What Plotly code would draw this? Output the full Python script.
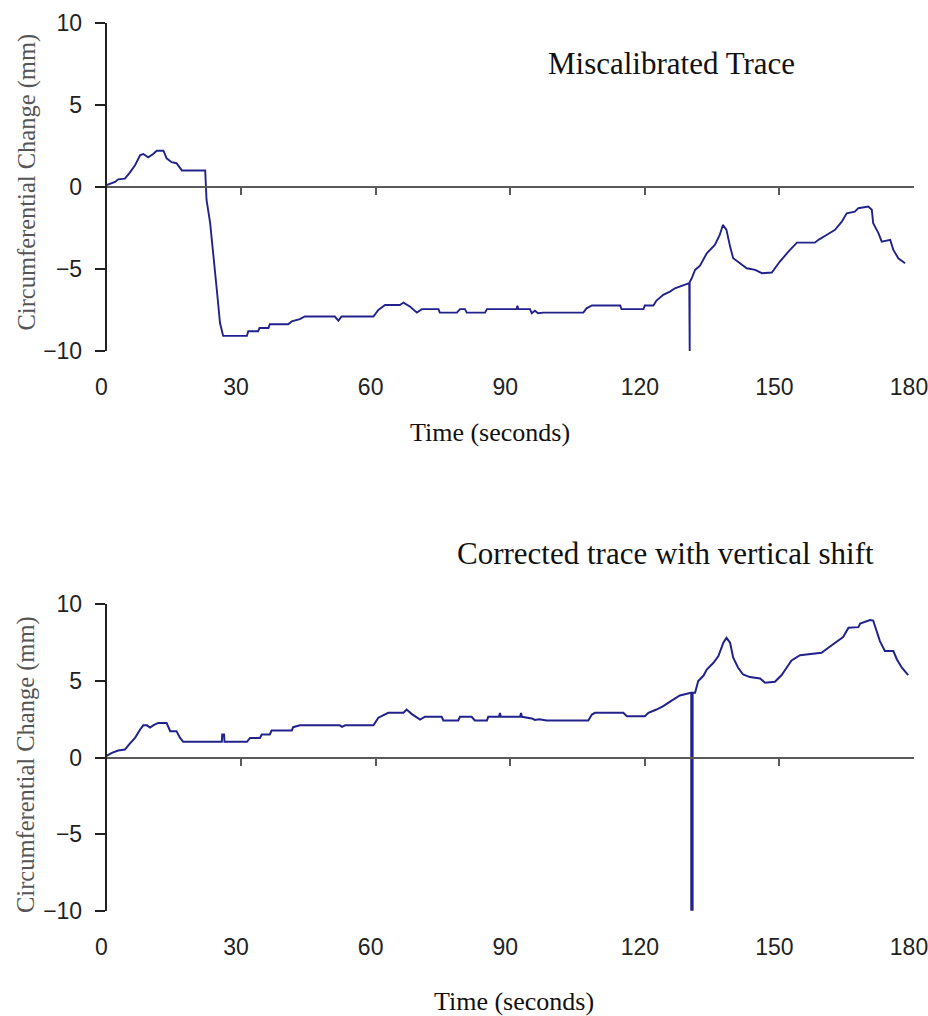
import plotly.graph_objects as go

# ---------------- data ----------------
top_t = [0, 1.9, 2.6, 4.1, 5.2, 6.4, 7.5, 8.2, 9.3, 10.4, 11.2, 12.7, 13.4, 14.5, 15.6, 16.8,
         22.0, 22.1, 22.3, 23.1, 23.8, 24.6, 25.3, 26.0, 31.3, 31.6, 33.8, 34.1, 36.1, 36.4,
         40.5, 41.3, 43.1, 44.2, 50.9, 51.7, 52.4, 59.5, 60.6, 62.1, 65.4, 66.2, 67.7, 69.2,
         70.3, 74.0, 74.3, 78.1, 78.8, 79.9, 80.3, 84.4, 84.8, 91.4, 91.6, 91.8, 94.4, 94.8,
         95.5, 96.2, 97.4, 106.3, 107.0, 108.2, 114.5, 114.8, 119.7, 120.0, 121.9, 122.6,
         124.1, 125.6, 126.7, 128.2, 129.9, 130.0, 130.0, 130.4, 131.2, 132.3, 133.8, 135.6,
         136.7, 137.4, 138.2, 139.0, 139.7, 141.2, 142.7, 144.6, 146.1, 148.3, 150.1, 152.0,
         153.9, 157.9, 158.7, 160.5, 162.4, 163.9, 165.0, 166.8, 167.6, 169.8, 170.6, 170.9,
         172.1, 172.8, 174.7, 175.4, 176.5, 178.0]
top_v = [0.1, 0.3, 0.46, 0.5, 0.87, 1.33, 1.94, 2.0, 1.8, 2.0, 2.2, 2.2, 1.74, 1.5, 1.44, 1.0,
         1.0, 0.0, -0.8, -2.2, -4.0, -6.3, -8.3, -9.08, -9.08, -8.8, -8.8, -8.6, -8.6, -8.37,
         -8.37, -8.2, -8.06, -7.9, -7.9, -8.15, -7.9, -7.9, -7.5, -7.2, -7.2, -7.05, -7.3, -7.66,
         -7.45, -7.45, -7.66, -7.66, -7.45, -7.45, -7.66, -7.66, -7.45, -7.45, -7.25, -7.45, -7.45, -7.7,
         -7.55, -7.7, -7.66, -7.66, -7.4, -7.23, -7.23, -7.45, -7.45, -7.23, -7.23, -6.93,
         -6.58, -6.38, -6.18, -6.04, -5.87, -10.0, -5.8, -5.6, -5.06, -4.8, -4.05, -3.54,
         -2.93, -2.32, -2.62, -3.64, -4.35, -4.65, -4.96, -5.06, -5.26, -5.22, -4.55, -3.95,
         -3.4, -3.4, -3.23, -2.93, -2.62, -2.12, -1.61, -1.51, -1.3, -1.2, -1.4, -2.22,
         -2.83, -3.34, -3.23, -3.84, -4.35, -4.65]

bot_t = [0, 1.2, 2.6, 4.1, 5.2, 6.4, 7.5, 8.2, 9.0, 9.7, 10.4, 11.5, 13.4, 14.2, 15.6, 16.4,
         17.1, 25.7, 25.8, 26.2, 26.3, 31.3, 32.0, 34.2, 34.6, 36.4, 36.8, 41.3, 41.6, 43.1,
         52.0, 52.5, 53.2, 59.5, 60.6, 62.8, 66.2, 66.9, 68.0, 69.9, 71.0, 74.7, 75.1, 78.4,
         78.8, 81.4, 82.1, 84.8, 85.1, 87.5, 87.7, 87.9, 92.2, 92.4, 92.6, 94.8, 95.5, 96.5,
         98.1, 107.4, 108.2, 108.9, 115.2, 116.0, 120.0, 120.8, 122.6, 124.1, 125.2, 126.7,
         127.8, 130.3, 130.35, 130.35, 130.65, 130.65, 131.2, 131.9, 133.1, 133.8, 135.3, 136.4,
         137.5, 138.2, 139.0, 139.7, 140.8, 141.9, 143.4, 145.7, 146.8, 149.0, 150.5, 151.6,
         152.7, 154.6, 158.7, 159.4, 160.9, 162.4, 164.2, 165.4, 167.6, 168.0, 170.2, 170.9,
         171.7, 172.4, 173.5, 175.4, 176.2, 177.3, 178.7]
bot_v = [0.1, 0.3, 0.46, 0.52, 0.9, 1.3, 1.83, 2.1, 2.1, 1.95, 2.1, 2.26, 2.26, 1.72, 1.72, 1.28,
         1.02, 1.02, 1.5, 1.5, 1.02, 1.02, 1.28, 1.28, 1.5, 1.5, 1.76, 1.76, 1.98, 2.1,
         2.1, 2.0, 2.1, 2.1, 2.6, 2.92, 2.92, 3.13, 2.85, 2.48, 2.66, 2.66, 2.42, 2.42,
         2.66, 2.66, 2.42, 2.42, 2.66, 2.66, 2.9, 2.66, 2.66, 2.9, 2.66, 2.55, 2.45, 2.5,
         2.42, 2.42, 2.8, 2.92, 2.92, 2.7, 2.7, 2.92, 3.13, 3.35, 3.57, 3.85,
         4.05, 4.22, 4.22, -10.0, -10.0, 4.22, 4.22, 4.99, 5.35, 5.74, 6.18, 6.62,
         7.49, 7.81, 7.49, 6.51, 5.86, 5.42, 5.25, 5.16, 4.88, 4.94, 5.38, 5.86,
         6.33, 6.68, 6.77, 6.83, 7.16, 7.49, 7.86, 8.47, 8.51, 8.75, 8.97, 8.94,
         8.25, 7.6, 6.95, 6.95, 6.4, 5.86, 5.38]

x_ticks = [0, 30, 60, 90, 120, 150, 180]
x_minor = [30, 60, 90, 120, 150]
y_ticks = [-10, -5, 0, 5, 10]

titles = ["Miscalibrated Trace", "Corrected trace with vertical shift"]
x_title = "Time (seconds)"
y_title = "Circumferential Change (mm)"

# ---------------- layout geometry ----------------
W, H = 928, 1016
x_dom = [106.5 / W, 914 / W]
top_dom = [1 - 351 / H, 1 - 22.7 / H]
bot_dom = [1 - 910.7 / H, 1 - 604.3 / H]

line_col = "#22228c"
tick_font = dict(family="Liberation Sans, Arial, sans-serif", size=23, color="#222222")
serif = "Liberation Serif, Times New Roman, serif"

fig = go.Figure()
fig.add_trace(go.Scatter(x=top_t, y=top_v, mode="lines", line=dict(color=line_col, width=1.9),
                         xaxis="x", yaxis="y", hoverinfo="skip", showlegend=False))
fig.add_trace(go.Scatter(x=bot_t, y=bot_v, mode="lines", line=dict(color=line_col, width=2.0),
                         xaxis="x2", yaxis="y2", hoverinfo="skip", showlegend=False))
# invisible helpers so the zero-line axes render
fig.add_trace(go.Scatter(x=[0], y=[0], mode="markers", marker=dict(opacity=0), xaxis="x3", yaxis="y",
                         hoverinfo="skip", showlegend=False))
fig.add_trace(go.Scatter(x=[0], y=[0], mode="markers", marker=dict(opacity=0), xaxis="x4", yaxis="y2",
                         hoverinfo="skip", showlegend=False))

common_x = dict(range=[0, 180], showgrid=False, zeroline=False, showline=False, ticks="",
                tickmode="array", tickvals=x_ticks, tickfont=tick_font, ticklabelstandoff=20,
                ticklabelshift=-5, ticklabeloverflow="allow", automargin=False, fixedrange=True)
common_y = dict(range=[-10, 10], showgrid=False, zeroline=False, showline=True, linecolor="#222222",
                linewidth=1.5, ticks="outside", ticklen=10, tickwidth=1.5, tickcolor="#222222",
                tickmode="array", tickvals=y_ticks, tickfont=tick_font, ticklabelstandoff=8,
                automargin=False, fixedrange=True)
zero_axis = dict(range=[0, 180], showgrid=False, zeroline=False, showline=True, linecolor="#5a5a5a",
                 linewidth=2.2, ticks="outside", ticklen=7, tickwidth=2, tickcolor="#5a5a5a",
                 tickmode="array", tickvals=x_minor, showticklabels=False, anchor="free",
                 automargin=False, fixedrange=True)

fig.update_layout(
    width=W, height=H,
    margin=dict(l=0, r=0, t=0, b=0, pad=0, autoexpand=False),
    paper_bgcolor="white", plot_bgcolor="white",
    xaxis=dict(domain=x_dom, anchor="y", **common_x),
    yaxis=dict(domain=top_dom, anchor="x", **common_y),
    xaxis2=dict(domain=x_dom, anchor="y2", **common_x),
    yaxis2=dict(domain=bot_dom, anchor="x2", **common_y),
    xaxis3=dict(overlaying="x", position=top_dom[0] + 0.5 * (top_dom[1] - top_dom[0]), **zero_axis),
    xaxis4=dict(overlaying="x2", position=bot_dom[0] + 0.5 * (bot_dom[1] - bot_dom[0]), **zero_axis),
    showlegend=False,
)

ann = []
ann.append(dict(text=titles[0], x=671.7 / W, y=1 - 63 / H, xref="paper", yref="paper",
                showarrow=False, font=dict(family=serif, size=31, color="#111111"),
                xanchor="center", yanchor="middle"))
ann.append(dict(text=titles[1], x=665 / W, y=1 - 553 / H, xref="paper", yref="paper",
                showarrow=False, font=dict(family=serif, size=31, color="#111111"),
                xanchor="center", yanchor="middle"))
ann.append(dict(text=x_title, x=490 / W, y=1 - 432 / H, xref="paper", yref="paper",
                showarrow=False, font=dict(family=serif, size=26, color="#111111"),
                xanchor="center", yanchor="middle"))
ann.append(dict(text=x_title, x=514 / W, y=1 - 1001 / H, xref="paper", yref="paper",
                showarrow=False, font=dict(family=serif, size=26, color="#111111"),
                xanchor="center", yanchor="middle"))
ann.append(dict(text=y_title, x=26 / W, y=1 - 182.5 / H, xref="paper", yref="paper",
                showarrow=False, textangle=-90, font=dict(family=serif, size=24.5, color="#555555"),
                xanchor="center", yanchor="middle"))
ann.append(dict(text=y_title, x=26 / W, y=1 - 765 / H, xref="paper", yref="paper",
                showarrow=False, textangle=-90, font=dict(family=serif, size=24.5, color="#555555"),
                xanchor="center", yanchor="middle"))
fig.update_layout(annotations=ann)

fig.write_html("out.html")
